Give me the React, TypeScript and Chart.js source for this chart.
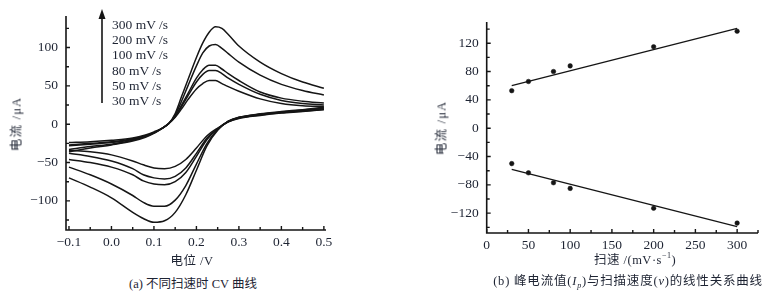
import React, { useEffect, useRef } from "react";
import { Chart, registerables } from "chart.js";

Chart.register(...registerables);

// ---------- Panel (a): CV curves ----------
const cvXTicks = [-0.1, 0, 0.1, 0.2, 0.3, 0.4, 0.5];
const cvXMinor = [-0.05, 0.05, 0.15, 0.25, 0.35, 0.45];
const cvYTicks = [-100, -50, 0, 50, 100];
const cvYMinor = [-125, -75, -25, 25, 75, 125];

const fwdPotential = [-0.1, -0.05, 0, 0.05, 0.08, 0.1, 0.12, 0.135, 0.15, 0.165, 0.18, 0.2, 0.215, 0.23, 0.245, 0.26, 0.275, 0.3, 0.35, 0.4, 0.45, 0.5];
const fwd300 = [-36, -31, -27, -22, -17, -12, -5, 1, 14, 36, 58, 87, 106, 120, 127, 125, 117, 102, 81, 66, 55, 47];
const fwd200 = [-33, -29, -26, -21, -16, -11, -5, 1, 12, 30, 50, 76, 93, 102, 104, 99, 92, 81, 64, 52, 44, 38];
const fwd100 = [-28, -26, -24, -20, -16, -11, -5, 1, 10, 25, 40, 60, 71, 77, 77, 72, 66, 57, 42, 34, 30, 27.5];
const fwd80 = [-27, -25, -23, -19, -15, -11, -5, 1, 10, 23, 37, 55, 65, 70, 70, 66, 60, 52, 39, 31, 27, 25];
const fwd50 = [-24, -23, -21, -18, -14, -10, -5, 1, 9, 20, 32, 46, 53, 57, 57, 53, 49, 43, 33, 27, 24, 23];

const revPotential = [-0.1, -0.05, 0, 0.05, 0.075, 0.1, 0.125, 0.15, 0.175, 0.2, 0.225, 0.25, 0.275, 0.3, 0.35, 0.4, 0.45, 0.5];
const rev300 = [-70, -82, -96, -115, -123, -128, -126, -115, -92, -60, -28, -8, 4, 9, 13.5, 16.5, 19, 22];
const rev200 = [-56, -66, -78, -93, -102, -107, -107, -99, -80, -52, -25, -7, 4, 9, 13, 16, 18.5, 21];
const rev100 = [-46, -50, -56, -66, -74, -78, -79, -75, -63, -42, -20, -6, 3.5, 8.5, 12.5, 15.5, 17.5, 20];
const rev80 = [-38, -42, -48, -58, -66, -70, -71.5, -68, -57, -38, -18, -6, 3, 8, 12, 15, 17, 19.5];
const rev50 = [-34, -36, -40, -48, -53, -57, -58, -55, -46, -31, -15, -5, 3, 7.5, 11.5, 14.5, 16.5, 19];

const legendLabels = ["300 mV /s", "200 mV /s", "100 mV /s", "80 mV /s", "50 mV /s", "30 mV /s"];

// ---------- Panel (b): peak current vs scan rate ----------
const rateTicks = [0, 50, 100, 150, 200, 250, 300];
const rateMinor = [25, 75, 125, 175, 225, 275, 325];
const ipTicks = [-120, -80, -40, 0, 40, 80, 120];
const ipMinor = [-140, -100, -60, -20, 20, 60, 100, 140];

const scanRates = [30, 50, 80, 100, 200, 300];
const anodicPeak = [53, 66, 80, 88, 115, 137];
const cathodicPeak = [-50, -63, -77, -85, -113, -134];
const fitRates = [30, 300];
const anodicFit = [60, 141];
const cathodicFit = [-58, -139];

const INK = "#151515";
const TEXT = "#1e2433";
const SERIF = "'Liberation Serif', 'Times New Roman', serif";
const CJK = "'Liberation Serif', 'Noto Sans CJK SC', serif";

const minus = (s: string) => s.replace("-", "\u2212");

const inwardAxes = {
  id: "inwardAxes",
  afterDraw(chart: any) {
    const o = chart.options.plugins.inwardAxes;
    if (!o) return;
    const { ctx, chartArea } = chart;
    const { left, right, top, bottom } = chartArea;
    const x = chart.scales.x;
    const y = chart.scales.y;
    ctx.save();
    ctx.strokeStyle = INK;
    ctx.lineWidth = 1.6;
    ctx.beginPath();
    ctx.moveTo(left, top);
    ctx.lineTo(left, bottom);
    ctx.lineTo(right, bottom);
    ctx.stroke();
    ctx.lineWidth = 1.4;
    ctx.beginPath();
    const tick = (vals: number[], len: number) => {
      vals.forEach((v) => {
        const px = x.getPixelForValue(v);
        ctx.moveTo(px, bottom);
        ctx.lineTo(px, bottom - len);
      });
    };
    const ytick = (vals: number[], len: number) => {
      vals.forEach((v) => {
        const py = y.getPixelForValue(v);
        ctx.moveTo(left, py);
        ctx.lineTo(left + len, py);
      });
    };
    tick(o.xMajor, 4);
    tick(o.xMinor, 3);
    ytick(o.yMajor, 4);
    ytick(o.yMinor, 3);
    ctx.stroke();
    ctx.restore();
  },
};

function tickFont() {
  return { family: SERIF, size: 13.5 };
}

function CVChart() {
  const ref = useRef<HTMLCanvasElement>(null);
  useEffect(() => {
    const mk = (xs: number[], ys: number[]) => xs.map((v, i) => ({ x: v, y: ys[i] }));
    const line = (data: any[]) => ({
      data,
      showLine: true,
      borderColor: INK,
      borderWidth: 1.5,
      pointRadius: 0,
      cubicInterpolationMode: "monotone" as const,
      fill: false,
    });
    const chart = new Chart(ref.current!, {
      type: "scatter",
      data: {
        datasets: [
          line(mk(fwdPotential, fwd300)),
          line(mk(fwdPotential, fwd200)),
          line(mk(fwdPotential, fwd100)),
          line(mk(fwdPotential, fwd80)),
          line(mk(fwdPotential, fwd50)),
          line(mk(revPotential, rev300)),
          line(mk(revPotential, rev200)),
          line(mk(revPotential, rev100)),
          line(mk(revPotential, rev80)),
          line(mk(revPotential, rev50)),
        ],
      },
      options: {
        responsive: false,
        animation: false,
        layout: { padding: { top: 10, right: 19, left: 0, bottom: 0 } },
        plugins: {
          legend: { display: false },
          tooltip: { enabled: false },
          inwardAxes: { xMajor: cvXTicks, xMinor: cvXMinor, yMajor: cvYTicks, yMinor: cvYMinor },
        } as any,
        scales: {
          x: {
            type: "linear",
            min: -0.107,
            max: 0.505,
            afterBuildTicks: (s: any) => {
              s.ticks = cvXTicks.map((v) => ({ value: v }));
            },
            afterFit: (s: any) => {
              s.height = 40;
            },
            grid: { display: false, drawTicks: false },
            border: { display: false },
            ticks: {
              padding: 4,
              color: TEXT,
              font: tickFont(),
              maxRotation: 0,
              autoSkip: false,
              callback: (v: any) => minus(Number(v).toFixed(1)),
            },
          },
          y: {
            type: "linear",
            min: -138,
            max: 141,
            afterBuildTicks: (s: any) => {
              s.ticks = cvYTicks.map((v) => ({ value: v }));
            },
            afterFit: (s: any) => {
              s.width = 66;
            },
            grid: { display: false, drawTicks: false },
            border: { display: false },
            ticks: {
              padding: 8,
              color: TEXT,
              font: tickFont(),
              autoSkip: false,
              callback: (v: any) => minus(String(v)),
            },
          },
        },
      },
      plugins: [inwardAxes],
    });
    return () => chart.destroy();
  }, []);
  return <canvas ref={ref} width={345} height={270} style={{ position: "absolute", left: 0, top: 0 }} />;
}

function PeakChart() {
  const ref = useRef<HTMLCanvasElement>(null);
  useEffect(() => {
    const mk = (xs: number[], ys: number[]) => xs.map((v, i) => ({ x: v, y: ys[i] }));
    const pts = (data: any[]) => ({
      data,
      showLine: false,
      pointRadius: 2.3,
      pointBackgroundColor: INK,
      pointBorderColor: INK,
      pointBorderWidth: 0.5,
    });
    const fit = (data: any[]) => ({
      data,
      showLine: true,
      borderColor: INK,
      borderWidth: 1.3,
      pointRadius: 0,
    });
    const chart = new Chart(ref.current!, {
      type: "scatter",
      data: {
        datasets: [
          fit(mk(fitRates, anodicFit)),
          fit(mk(fitRates, cathodicFit)),
          pts(mk(scanRates, anodicPeak)),
          pts(mk(scanRates, cathodicPeak)),
        ],
      },
      options: {
        responsive: false,
        animation: false,
        layout: { padding: { top: 22, right: 13, left: 0, bottom: 0 } },
        plugins: {
          legend: { display: false },
          tooltip: { enabled: false },
          inwardAxes: { xMajor: rateTicks, xMinor: rateMinor, yMajor: ipTicks, yMinor: ipMinor },
        } as any,
        scales: {
          x: {
            type: "linear",
            min: 0,
            max: 325,
            afterBuildTicks: (s: any) => {
              s.ticks = rateTicks.map((v) => ({ value: v }));
            },
            afterFit: (s: any) => {
              s.height = 37;
            },
            grid: { display: false, drawTicks: false },
            border: { display: false },
            ticks: {
              padding: 4,
              color: TEXT,
              font: tickFont(),
              maxRotation: 0,
              autoSkip: false,
              callback: (v: any) => String(v),
            },
          },
          y: {
            type: "linear",
            min: -148,
            max: 150,
            afterBuildTicks: (s: any) => {
              s.ticks = ipTicks.map((v) => ({ value: v }));
            },
            afterFit: (s: any) => {
              s.width = 66.7;
            },
            grid: { display: false, drawTicks: false },
            border: { display: false },
            ticks: {
              padding: 8,
              color: TEXT,
              font: tickFont(),
              autoSkip: false,
              callback: (v: any) => minus(String(v)),
            },
          },
        },
      },
      plugins: [inwardAxes],
    });
    return () => chart.destroy();
  }, []);
  return <canvas ref={ref} width={351} height={270} style={{ position: "absolute", left: 420, top: 0 }} />;
}

const abs = (s: React.CSSProperties): React.CSSProperties => ({ position: "absolute", whiteSpace: "nowrap", color: TEXT, ...s });

export default function App() {
  return (
    <div style={{ position: "absolute", left: 0, top: 0, width: 771, height: 297, background: "#fff", overflow: "hidden" }}>
      <CVChart />
      <PeakChart />

      {/* legend of panel (a) */}
      <svg width={12} height={100} style={{ position: "absolute", left: 96, top: 8 }}>
        <line x1={6} y1={8} x2={6} y2={95} stroke={INK} strokeWidth={1.6} />
        <polygon points="6,1 2.5,11 9.5,11" fill={INK} />
      </svg>
      <div style={abs({ left: 112, top: 17, fontFamily: SERIF, fontSize: 13.5, lineHeight: "15.2px" })}>
        {legendLabels.map((t) => (
          <div key={t}>{t}</div>
        ))}
      </div>

      {/* axis titles */}
      <div style={abs({ left: 15, top: 124, transform: "translate(-50%, -50%) rotate(-90deg)", fontFamily: CJK, fontSize: 12.5, letterSpacing: 1.2 })}>
        电流 /μA
      </div>
      <div style={abs({ left: 192, top: 259, transform: "translate(-50%, -50%)", fontFamily: CJK, fontSize: 12.5, letterSpacing: 0.5 })}>
        电位 /V
      </div>
      <div style={abs({ left: 440, top: 128, transform: "translate(-50%, -50%) rotate(-90deg)", fontFamily: CJK, fontSize: 12.5, letterSpacing: 1.2 })}>
        电流 /μA
      </div>
      <div style={abs({ left: 635, top: 258, transform: "translate(-50%, -50%)", fontFamily: CJK, fontSize: 12.5, letterSpacing: 0.5 })}>
        扫速 /(mV·s<sup style={{ fontSize: 8 }}>−1</sup>)
      </div>

      {/* captions */}
      <div style={abs({ left: 193, top: 282, transform: "translate(-50%, -50%)", fontFamily: CJK, fontSize: 12.5 })}>
        (a) 不同扫速时 CV 曲线
      </div>
      <div style={abs({ left: 628, top: 280, transform: "translate(-50%, -50%)", fontFamily: CJK, fontSize: 12.5, letterSpacing: 0.8 })}>
        (b) 峰电流值(<i>I</i>
        <sub style={{ fontSize: 8 }}>
          <i>p</i>
        </sub>
        )与扫描速度(<i>v</i>)的线性关系曲线
      </div>
    </div>
  );
}
